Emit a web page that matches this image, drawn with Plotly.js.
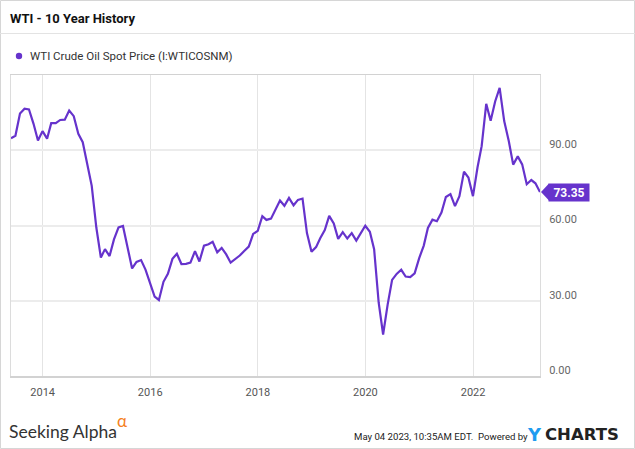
<!DOCTYPE html>
<html>
<head>
<meta charset="utf-8">
<script src="https://cdn.plot.ly/plotly-3.0.1.min.js"></script>
<style>html,body{margin:0;padding:0;background:#fff;}#chart{width:635px;height:449px;}</style>
</head>
<body>
<div id="chart"></div>
<script>
// WTI Crude Oil Spot Price, monthly (month-end points), May 2013 - Mar 2023
const startYear = 2013;
const startMonth = 5; // May
const wti2013 = [94.80, 95.80, 104.61, 106.57, 106.29, 100.54, 93.86, 97.63];
const wti2014 = [94.62, 100.82, 100.80, 102.07, 102.18, 105.79, 103.59, 96.54, 93.21, 84.40, 75.79, 59.29];
const wti2015 = [47.22, 50.58, 47.82, 54.45, 59.27, 59.82, 50.90, 42.87, 45.48, 46.22, 42.44, 37.19];
const wti2016 = [31.68, 30.32, 37.55, 40.75, 46.71, 48.76, 44.65, 44.72, 45.18, 49.78, 45.66, 51.97];
const wti2017 = [52.50, 53.47, 49.33, 51.06, 48.48, 45.18, 46.63, 48.04, 49.82, 51.58, 56.64, 57.88];
const wti2018 = [63.70, 62.23, 62.73, 66.25, 69.98, 67.87, 70.98, 68.06, 70.23, 70.75, 56.96, 49.52];
const wti2019 = [51.38, 54.95, 58.15, 63.86, 60.83, 54.66, 57.35, 54.81, 56.95, 53.96, 57.03, 59.88];
const wti2020 = [57.52, 50.54, 29.21, 16.55, 28.56, 38.31, 40.71, 42.34, 39.63, 39.40, 40.94, 47.02];
const wti2021 = [52.00, 59.04, 62.33, 61.72, 65.17, 71.38, 72.49, 67.73, 71.65, 81.48, 79.15, 71.71];
const wti2022 = [83.22, 91.64, 108.50, 101.78, 109.55, 114.84, 101.62, 93.67, 84.26, 87.55, 84.37, 76.44];
const wti2023 = [78.12, 76.83, 73.35];
const lastValueLabel = "73.35";
const yTickVals = [0, 30, 60, 90];

const seriesName = "WTI Crude Oil Spot Price (I:WTICOSNM)";
const chartTitle = "WTI - 10 Year History";

const values = [].concat(wti2013, wti2014, wti2015, wti2016, wti2017, wti2018, wti2019, wti2020, wti2021, wti2022, wti2023);
const dates = values.map((v, i) => {
  const m0 = startMonth - 1 + i;
  const y = startYear + Math.floor(m0 / 12);
  const m = m0 % 12;
  const d = new Date(Date.UTC(y, m + 1, 0));
  return d.toISOString().slice(0, 10);
});

// pixel -> paper helpers (plot area 11..540 x 75..376)
const L = 11, R = 540, T = 75, B = 376;
const px = x => (x - L) / (R - L);
const py = y => (B - y) / (B - T);
const purple = '#6633cc';

const trace = {
  type: 'scatter', mode: 'lines', x: dates, y: values, name: seriesName,
  line: {color: purple, width: 2.2}, hoverinfo: 'skip', showlegend: false
};

const layout = {
  width: 635, height: 449,
  margin: {l: L, r: 635 - R, t: T, b: 449 - B, pad: 0},
  paper_bgcolor: '#fff', plot_bgcolor: '#fff',
  font: {family: 'Roboto, sans-serif', color: '#555'},
  showlegend: false,
  title: {text: '<b>' + chartTitle + '</b>', xref: 'container', yref: 'container',
          x: 10 / 635, xanchor: 'left', y: 1 - 18 / 449, yanchor: 'middle',
          font: {family: 'Roboto, sans-serif', size: 13, color: '#111'}},
  xaxis: {
    type: 'date', range: [dates[0], dates[dates.length - 1]],
    tick0: '2014-01-01', dtick: 'M24', tickformat: '%Y',
    showgrid: true, gridcolor: '#e4e4e4', gridwidth: 1,
    showline: true, linecolor: '#d2d2d2', linewidth: 1.5, mirror: true,
    ticks: '', zeroline: false, ticklabelstandoff: 5,
    tickfont: {family: 'Roboto, sans-serif', size: 11, color: '#555'}
  },
  yaxis: {
    side: 'right', range: [0, 120], tickvals: yTickVals, tickformat: '.2f',
    showgrid: true, gridcolor: '#ececec', gridwidth: 2,
    showline: true, linecolor: '#dcdcdc', linewidth: 1, mirror: true,
    ticks: '', zeroline: false, ticklabelstandoff: 6, ticklabelshift: -6,
    tickfont: {family: 'Roboto, sans-serif', size: 11, color: '#666'}
  },
  shapes: [
    {type: 'rect', xref: 'paper', yref: 'paper', x0: px(0.5), x1: px(634.5), y0: py(448.5), y1: py(0.5),
     line: {color: '#d6d6d6', width: 1}, layer: 'below'},
    {type: 'line', xref: 'paper', yref: 'paper', x0: px(0), x1: px(635), y0: py(33.5), y1: py(33.5),
     line: {color: '#e3e3e3', width: 1}},
    {type: 'circle', xref: 'paper', yref: 'paper', x0: px(15.8), x1: px(22.2), y0: py(59.2), y1: py(52.8),
     fillcolor: purple, line: {width: 0}},
    {type: 'path', xref: 'paper', yref: 'y', xsizemode: 'pixel', ysizemode: 'pixel',
     xanchor: 1, yanchor: values[values.length - 1],
     path: 'M1,0 L9,8.5 L9,-8.5 Z', fillcolor: purple, line: {width: 0}}
  ],
  annotations: [
    {xref: 'paper', yref: 'paper', x: px(28), y: py(56), xanchor: 'left', yanchor: 'middle', showarrow: false,
     text: seriesName, font: {family: 'Roboto, sans-serif', size: 11.5, color: '#333'}},
    {xref: 'paper', yref: 'y', x: 1, y: values[values.length - 1], xanchor: 'left', yanchor: 'middle',
     xshift: 8, showarrow: false, width: 40, height: 17, bgcolor: purple, borderpad: 0,
     text: '<b>' + lastValueLabel + '</b>', font: {family: 'Roboto, sans-serif', size: 12, color: '#fff'}},
    {xref: 'paper', yref: 'paper', x: px(7), y: py(431), xanchor: 'left', yanchor: 'middle', showarrow: false,
     text: 'Seeking Alpha', font: {family: 'Lato, sans-serif', size: 17.5, color: '#333'}},
    {xref: 'paper', yref: 'paper', x: px(115), y: py(420), xanchor: 'left', yanchor: 'middle', showarrow: false,
     text: 'α', font: {family: 'Lato, sans-serif', size: 17, color: '#f5811f'}},
    {xref: 'paper', yref: 'paper', x: px(530), y: py(436), xanchor: 'right', yanchor: 'middle', showarrow: false,
     text: 'May 04 2023, 10:35AM EDT.\u00a0 Powered by', font: {family: 'Roboto, sans-serif', size: 9.6, color: '#222'}},
    {xref: 'paper', yref: 'paper', x: px(525), y: py(434), xanchor: 'left', yanchor: 'middle', showarrow: false,
     text: '<b>Y</b>', font: {family: 'DejaVu Sans, sans-serif', size: 18, color: '#1f9cf0'}},
    {xref: 'paper', yref: 'paper', x: px(543), y: py(434), xanchor: 'left', yanchor: 'middle', showarrow: false,
     text: '<b>CHARTS</b>', font: {family: 'DejaVu Sans, sans-serif', size: 16.5, color: '#222'}}
  ]
};

Plotly.newPlot('chart', [trace], layout, {staticPlot: true, displayModeBar: false});
</script>
</body>
</html>
